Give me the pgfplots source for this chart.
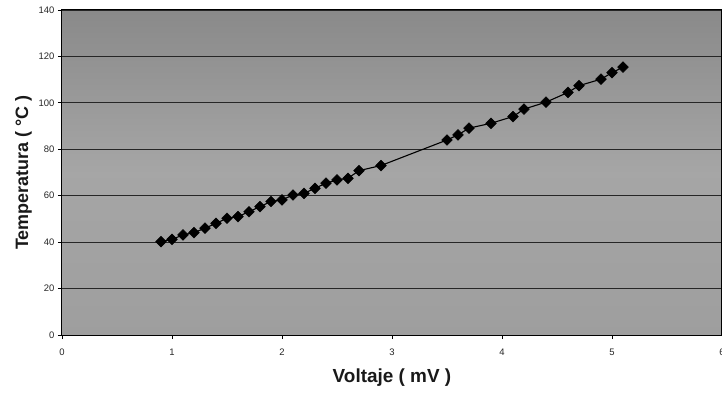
\documentclass[border=0pt]{standalone}
\usepackage{fontspec}
\setmainfont{Liberation Sans}
\usepackage{pgfplots}
\pgfplotsset{compat=1.18}
\begin{document}
\begin{tikzpicture}
\begin{axis}[
  scale only axis, width=660bp, height=325bp,
  xmin=0, xmax=6, ymin=0, ymax=140,
  xtick={0,1,...,6}, ytick={0,20,...,140},
  ymajorgrids, grid style={black!85, line width=0.9bp},
  axis line style={black, line width=1bp},
  tick align=outside, major tick length=4bp,
  tick style={black, line width=0.8bp},
  xtick pos=bottom, ytick pos=left,
  /pgf/number format/assume math mode=true,
  tick label style={font=\fontsize{9.5}{10}\selectfont, text=black!85},
  xticklabel style={yshift=-6bp},
  xlabel={\textbf{Voltaje ( mV )}},
  ylabel={\textbf{Temperatura ( °C )}},
  xlabel style={font=\fontsize{19}{21}\selectfont, text=black!90, yshift=-7bp},
  ylabel style={font=\fontsize{18}{20}\selectfont, text=black!90, yshift=0bp},
  axis background/.style={top color=black!46, bottom color=black!38, middle color=black!35},
  clip=false,
]
\addplot[black, line width=1.1bp, mark=square*, mark size=3.8bp, mark options={rotate=45, fill=black, draw=black, line width=0.5bp}] coordinates {
(0.9,40.2) (1.0,41.2) (1.1,43.1) (1.2,44.1) (1.3,46.0) (1.4,48.1) (1.5,50.3)
(1.6,51.0) (1.7,53.1) (1.8,55.3) (1.9,57.5) (2.0,58.2) (2.1,60.3) (2.2,61.0)
(2.3,63.2) (2.4,65.4) (2.5,66.8) (2.6,67.5) (2.7,70.8) (2.9,73.0)
(3.5,84.0) (3.6,86.2) (3.7,89.1) (3.9,91.2) (4.1,94.1) (4.2,97.3) (4.4,100.3)
(4.6,104.5) (4.7,107.4) (4.9,110.2) (5.0,113.0) (5.1,115.4)
};
\end{axis}
\pgfresetboundingbox
\path (current axis.south west) ++(-62bp,-58bp) rectangle ++(722bp,393bp);
\end{tikzpicture}
\end{document}
